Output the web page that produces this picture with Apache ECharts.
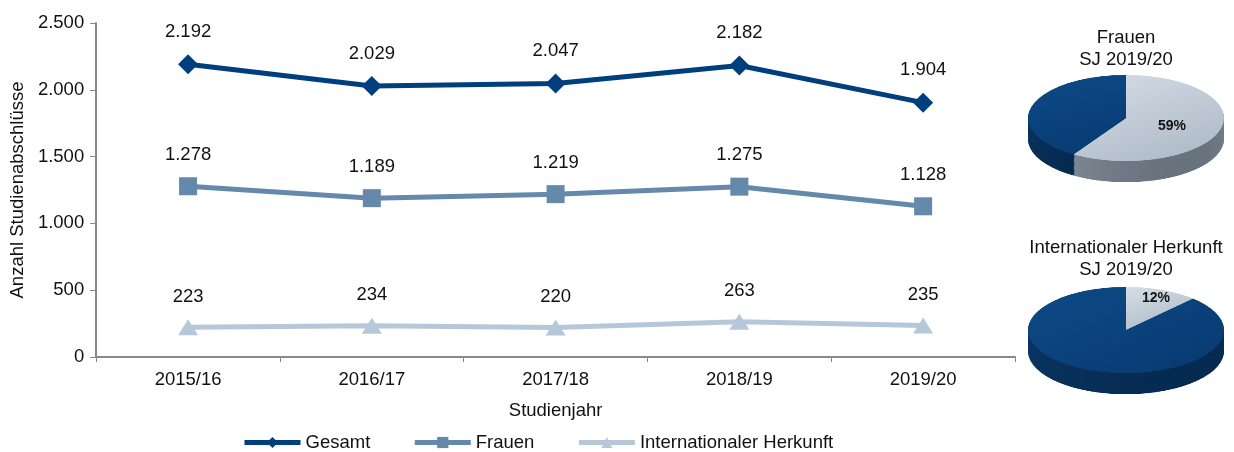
<!DOCTYPE html>
<html>
<head>
<meta charset="utf-8">
<script src="https://cdn.jsdelivr.net/npm/echarts@6/dist/echarts.min.js"></script>
<style>
  html, body { margin: 0; padding: 0; background: #fff; }
  #main { position: absolute; left: 0; top: 0; width: 1234px; height: 452px; z-index: 2; }
  .pie { position: absolute; width: 210px; height: 260px; transform: scaleY(0.44); transform-origin: top left; z-index: 1; }
</style>
</head>
<body>
<div id="pieFrauen" class="pie" style="left:1021px; top:74px;"></div>
<div id="pieIntl" class="pie" style="left:1021px; top:286px;"></div>
<div id="main"></div>
<script>
// Daten
const years = ["2015/16", "2016/17", "2017/18", "2018/19", "2019/20"];
const gesamt = [2192, 2029, 2047, 2182, 1904];
const frauen = [1278, 1189, 1219, 1275, 1128];
const international = [223, 234, 220, 263, 235];

// Anteile SJ 2019/20 (Prozent)
const frauenShare = [59, 41];
const intlShare = [12, 88];

const FONT = "Liberation Sans, Arial, sans-serif";
const FS = 18.5;
const colGesamt = "#003f7d";
const colFrauen = "#6489ab";
const colIntl = "#b5c8da";

// Tausenderpunkt wie im Original
function fmt(v) {
  return String(v).replace(/\B(?=(\d{3})+(?!\d))/g, ".");
}

function lineSeries(name, data, color, symbol, size) {
  return {
    name: name,
    type: "line",
    data: data,
    symbol: symbol,
    symbolSize: size,
    lineStyle: { color: color, width: 5 },
    itemStyle: { color: color },
    label: {
      show: true,
      position: "top",
      distance: 13,
      fontFamily: FONT,
      fontSize: FS,
      color: "#111",
      formatter: (p) => fmt(p.value),
    },
    animation: false,
  };
}

// Linien-Diagramm (transparent, liegt über den Torten)
const main = echarts.init(document.getElementById("main"));
main.setOption({
  backgroundColor: "transparent",
  grid: { left: 95, right: 219, top: 23, bottom: 95 },
  legend: {
    left: 237,
    top: 428,
    itemWidth: 56,
    itemHeight: 14,
    itemGap: 42,
    lineStyle: { width: 5 },
    textStyle: { fontFamily: FONT, fontSize: FS, color: "#111" },
    data: ["Gesamt", "Frauen", "Internationaler Herkunft"],
  },
  xAxis: {
    type: "category",
    data: years,
    boundaryGap: true,
    name: "Studienjahr",
    nameLocation: "middle",
    nameGap: 44,
    nameTextStyle: { fontFamily: FONT, fontSize: FS, color: "#111" },
    axisLine: { lineStyle: { color: "#888", width: 2 } },
    axisTick: { show: true, length: 5, lineStyle: { color: "#888", width: 1 } },
    axisLabel: { fontFamily: FONT, fontSize: FS, color: "#111", margin: 13 },
  },
  yAxis: {
    type: "value",
    min: 0,
    max: 2500,
    interval: 500,
    name: "Anzahl Studienabschlüsse",
    nameLocation: "middle",
    nameGap: 66,
    nameTextStyle: { fontFamily: FONT, fontSize: FS, color: "#111" },
    axisLine: { show: true, lineStyle: { color: "#888", width: 2 } },
    axisTick: { show: true, length: 6, lineStyle: { color: "#888", width: 1 } },
    splitLine: { show: false },
    axisLabel: {
      fontFamily: FONT,
      fontSize: FS,
      color: "#111",
      margin: 12,
      formatter: (v) => fmt(v),
    },
  },
  graphic: [
    { type: "text", x: 1126, y: 27, style: { text: "Frauen\nSJ 2019/20", align: "center", font: FS + "px " + FONT, fill: "#111", lineHeight: 22 } },
    { type: "text", x: 1126, y: 237, style: { text: "Internationaler Herkunft\nSJ 2019/20", align: "center", font: FS + "px " + FONT, fill: "#111", lineHeight: 22 } },
    { type: "text", x: 1172, y: 126, style: { text: frauenShare[0] + "%", align: "center", verticalAlign: "middle", font: "bold 14px " + FONT, fill: "#111" } },
    { type: "text", x: 1156, y: 298, style: { text: intlShare[0] + "%", align: "center", verticalAlign: "middle", font: "bold 14px " + FONT, fill: "#111" } },
  ],
  series: [
    lineSeries("Gesamt", gesamt, colGesamt, "diamond", 20),
    lineSeries("Frauen", frauen, colFrauen, "rect", 18),
    lineSeries("Internationaler Herkunft", international, colIntl, "triangle", [20, 16]),
  ],
});

// 3D-Torten: gestauchte Kreise mit gestapelter Seitenwand
function grad(c1, c2) {
  return new echarts.graphic.LinearGradient(0, 0, 1, 1, [
    { offset: 0, color: c1 },
    { offset: 1, color: c2 },
  ]);
}

function pie3d(el, shares) {
  const chart = echarts.init(el);
  const sideData = [
    { value: shares[0], itemStyle: { color: grad("#a9b3bd", "#5c6671") } },
    { value: shares[1], itemStyle: { color: grad("#0b3a6b", "#05284c") } },
  ];
  const topData = [
    { value: shares[0], itemStyle: { color: grad("#d6dee7", "#aab7c4") } },
    { value: shares[1], itemStyle: { color: grad("#0e4a87", "#073a70") } },
  ];
  const series = [];
  for (let off = 48; off > 0; off -= 2) {
    series.push({
      type: "pie",
      center: [105, 100 + off],
      radius: 98,
      startAngle: 90,
      silent: true,
      label: { show: false },
      labelLine: { show: false },
      itemStyle: { borderWidth: 0 },
      data: sideData,
      animation: false,
    });
  }
  series.push({
    type: "pie",
    center: [105, 100],
    radius: 98,
    startAngle: 90,
    silent: true,
    label: { show: false },
    labelLine: { show: false },
    itemStyle: { borderWidth: 0 },
    data: topData,
    animation: false,
  });
  chart.setOption({ series: series });
}

pie3d(document.getElementById("pieFrauen"), frauenShare);
pie3d(document.getElementById("pieIntl"), intlShare);
</script>
</body>
</html>
